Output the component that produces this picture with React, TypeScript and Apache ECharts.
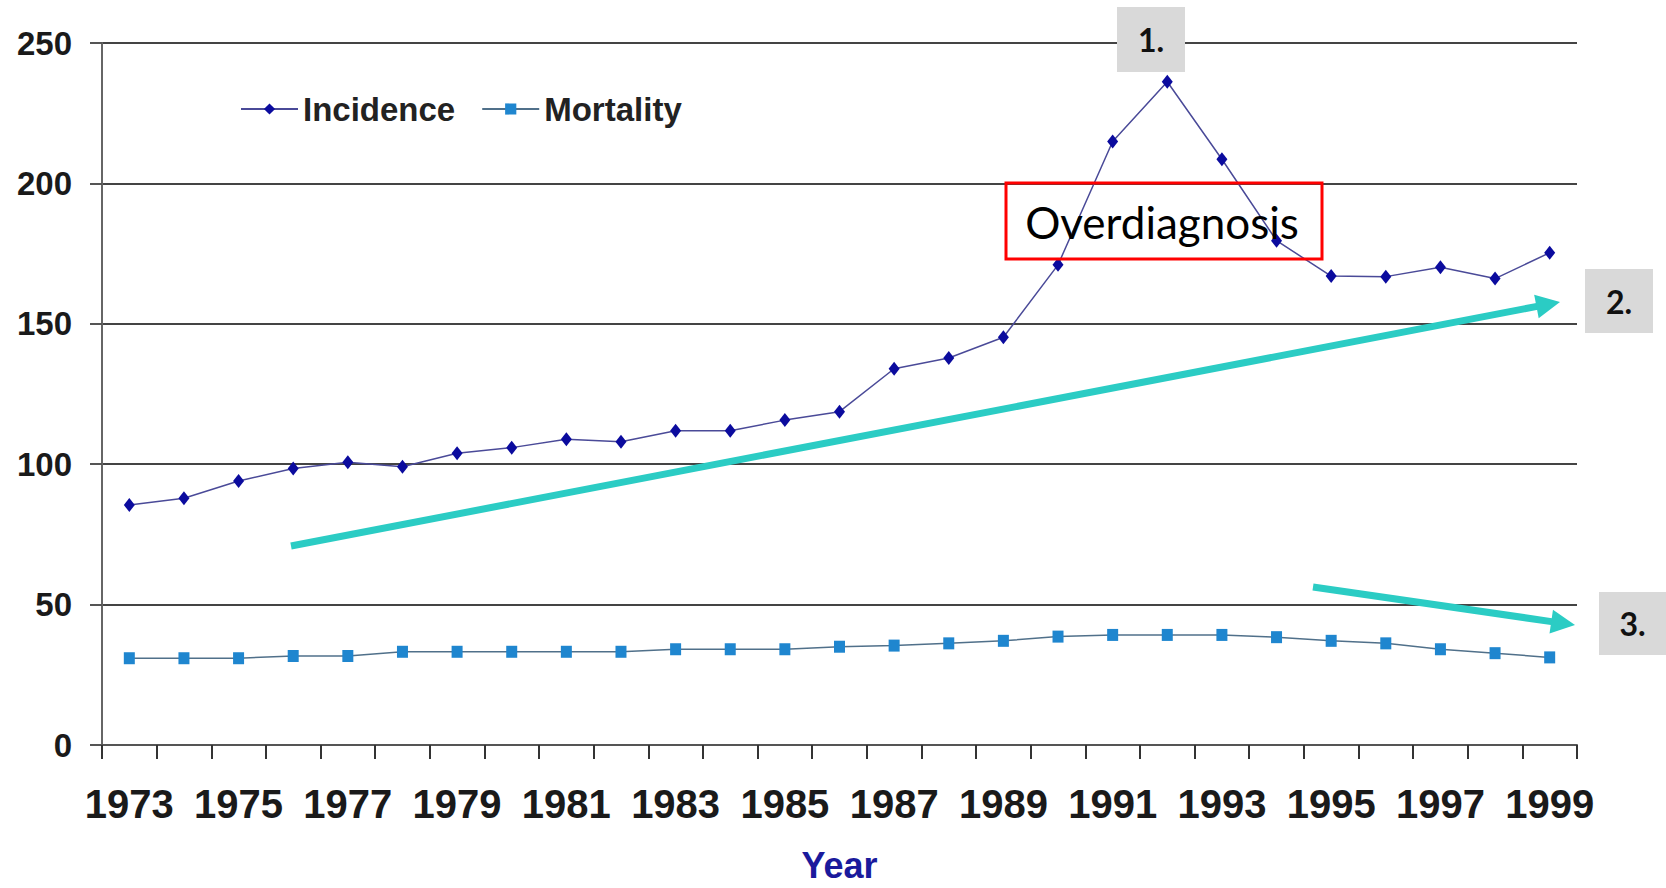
import React, { useEffect, useRef } from "react";
import * as echarts from "echarts";

const years = [
  "1973", "1974", "1975", "1976", "1977", "1978", "1979", "1980", "1981",
  "1982", "1983", "1984", "1985", "1986", "1987", "1988", "1989", "1990",
  "1991", "1992", "1993", "1994", "1995", "1996", "1997", "1998", "1999",
];

const incidence = [
  85.5, 87.9, 94, 98.5, 100.7, 99.1, 103.9, 105.9, 108.9, 108, 111.9, 111.9,
  115.7, 118.7, 134, 137.8, 145.2, 171, 214.9, 236.2, 208.6, 179.6, 167, 166.8,
  170.1, 166.1, 175.3,
];

const mortality = [
  30.9, 30.9, 30.9, 31.7, 31.7, 33.2, 33.2, 33.2, 33.2, 33.2, 34.1, 34.1, 34.1,
  35, 35.4, 36.2, 37.1, 38.6, 39.2, 39.2, 39.2, 38.4, 37.1, 36.2, 34.1, 32.7,
  31.2,
];

const yTicks = { min: 0, max: 250, interval: 50 };

const TEAL = "#2bccc4";
const FONT = "'Liberation Sans', Arial, sans-serif";
const CAL = "Lato, 'Open Sans', sans-serif";

function arrow(x1: number, y1: number, x2: number, y2: number) {
  const dx = x2 - x1;
  const dy = y2 - y1;
  const len = Math.sqrt(dx * dx + dy * dy);
  const ux = dx / len;
  const uy = dy / len;
  const nx = -uy;
  const ny = ux;
  const hl = 24;
  const hw = 12;
  const bx = x2 - hl * ux;
  const by = y2 - hl * uy;
  return [
    {
      type: "line",
      z: 100,
      shape: { x1, y1, x2: bx + ux * 2, y2: by + uy * 2 },
      style: { stroke: TEAL, lineWidth: 7 },
    },
    {
      type: "polygon",
      z: 100,
      shape: {
        points: [
          [x2, y2],
          [bx + hw * nx, by + hw * ny],
          [bx - hw * nx, by - hw * ny],
        ],
      },
      style: { fill: TEAL },
    },
  ];
}

function numberBox(x: number, y: number, w: number, h: number, label: string) {
  return [
    {
      type: "rect",
      z: 100,
      shape: { x, y, width: w, height: h },
      style: { fill: "#d9d9d9" },
    },
    {
      type: "text",
      z: 101,
      x: x + w / 2,
      y: y + h / 2,
      style: {
        text: label,
        fontFamily: CAL,
        fontWeight: "bold",
        fontSize: 32,
        fill: "#111",
        align: "center",
        verticalAlign: "middle",
      },
    },
  ];
}

export default function App() {
  const ref = useRef<HTMLDivElement>(null);

  useEffect(() => {
    if (!ref.current) return;
    const chart = echarts.init(ref.current, null, { renderer: "svg" });
    chart.setOption({
      animation: false,
      backgroundColor: "#ffffff",
      textStyle: { fontFamily: FONT },
      grid: {
        left: 102,
        right: 89,
        top: 43,
        bottom: 143,
        containLabel: false,
        outerBoundsMode: "none",
      },
      legend: {
        left: 235,
        top: 87,
        itemWidth: 57,
        itemHeight: 14,
        itemGap: 26,
        data: ["Incidence", "Mortality"],
        textStyle: {
          fontFamily: FONT,
          fontSize: 33,
          fontWeight: "bold",
          color: "#222",
          lineHeight: 34,
        },
      },
      xAxis: {
        type: "category",
        data: years,
        boundaryGap: true,
        name: "Year",
        nameLocation: "middle",
        nameGap: 102,
        nameTextStyle: {
          fontFamily: FONT,
          fontSize: 36,
          fontWeight: "bold",
          color: "#1a1a9c",
        },
        axisLine: { show: true, lineStyle: { color: "#555", width: 2 } },
        axisTick: {
          show: true,
          interval: 0,
          length: 14,
          lineStyle: { color: "#333", width: 2 },
        },
        axisLabel: {
          interval: 1,
          margin: 39,
          fontFamily: FONT,
          fontSize: 40,
          fontWeight: "bold",
          color: "#1a1a1a",
        },
        splitLine: { show: false },
      },
      yAxis: {
        type: "value",
        min: yTicks.min,
        max: yTicks.max,
        interval: yTicks.interval,
        axisLine: { show: true, lineStyle: { color: "#666", width: 2 } },
        axisTick: {
          show: true,
          length: 12,
          lineStyle: { color: "#555", width: 2 },
        },
        axisLabel: {
          margin: 30,
          fontFamily: FONT,
          fontSize: 33,
          fontWeight: "bold",
          color: "#1a1a1a",
        },
        splitLine: {
          show: true,
          lineStyle: { color: "#444", width: 2 },
        },
      },
      series: [
        {
          name: "Incidence",
          type: "line",
          data: incidence,
          symbol: "diamond",
          symbolSize: [11, 14],
          itemStyle: { color: "#0b0b9e" },
          lineStyle: { color: "#4a4a98", width: 1.5 },
          z: 3,
        },
        {
          name: "Mortality",
          type: "line",
          data: mortality,
          symbol: "rect",
          symbolSize: [11, 12],
          itemStyle: { color: "#1f86cf" },
          lineStyle: { color: "#50708a", width: 1.5 },
          z: 2,
        },
      ],
      graphic: [
        ...arrow(291, 546, 1560, 302),
        ...arrow(1313, 587, 1575, 625),
        ...numberBox(1117, 7, 68, 65, "1."),
        ...numberBox(1585, 269, 68, 64, "2."),
        ...numberBox(1599, 592, 67, 63, "3."),
        {
          type: "rect",
          z: 100,
          shape: { x: 1006, y: 183, width: 316, height: 76 },
          style: { fill: "none", stroke: "#ff0000", lineWidth: 3 },
        },
        {
          type: "text",
          z: 101,
          x: 1162,
          y: 222,
          style: {
            text: "Overdiagnosis",
            fontFamily: CAL,
            fontSize: 44,
            fill: "#000",
            align: "center",
            verticalAlign: "middle",
          },
        },
      ],
    });
    return () => chart.dispose();
  }, []);

  return (
    <div
      ref={ref}
      style={{ position: "fixed", left: 0, top: 0, width: 1666, height: 888 }}
    />
  );
}
